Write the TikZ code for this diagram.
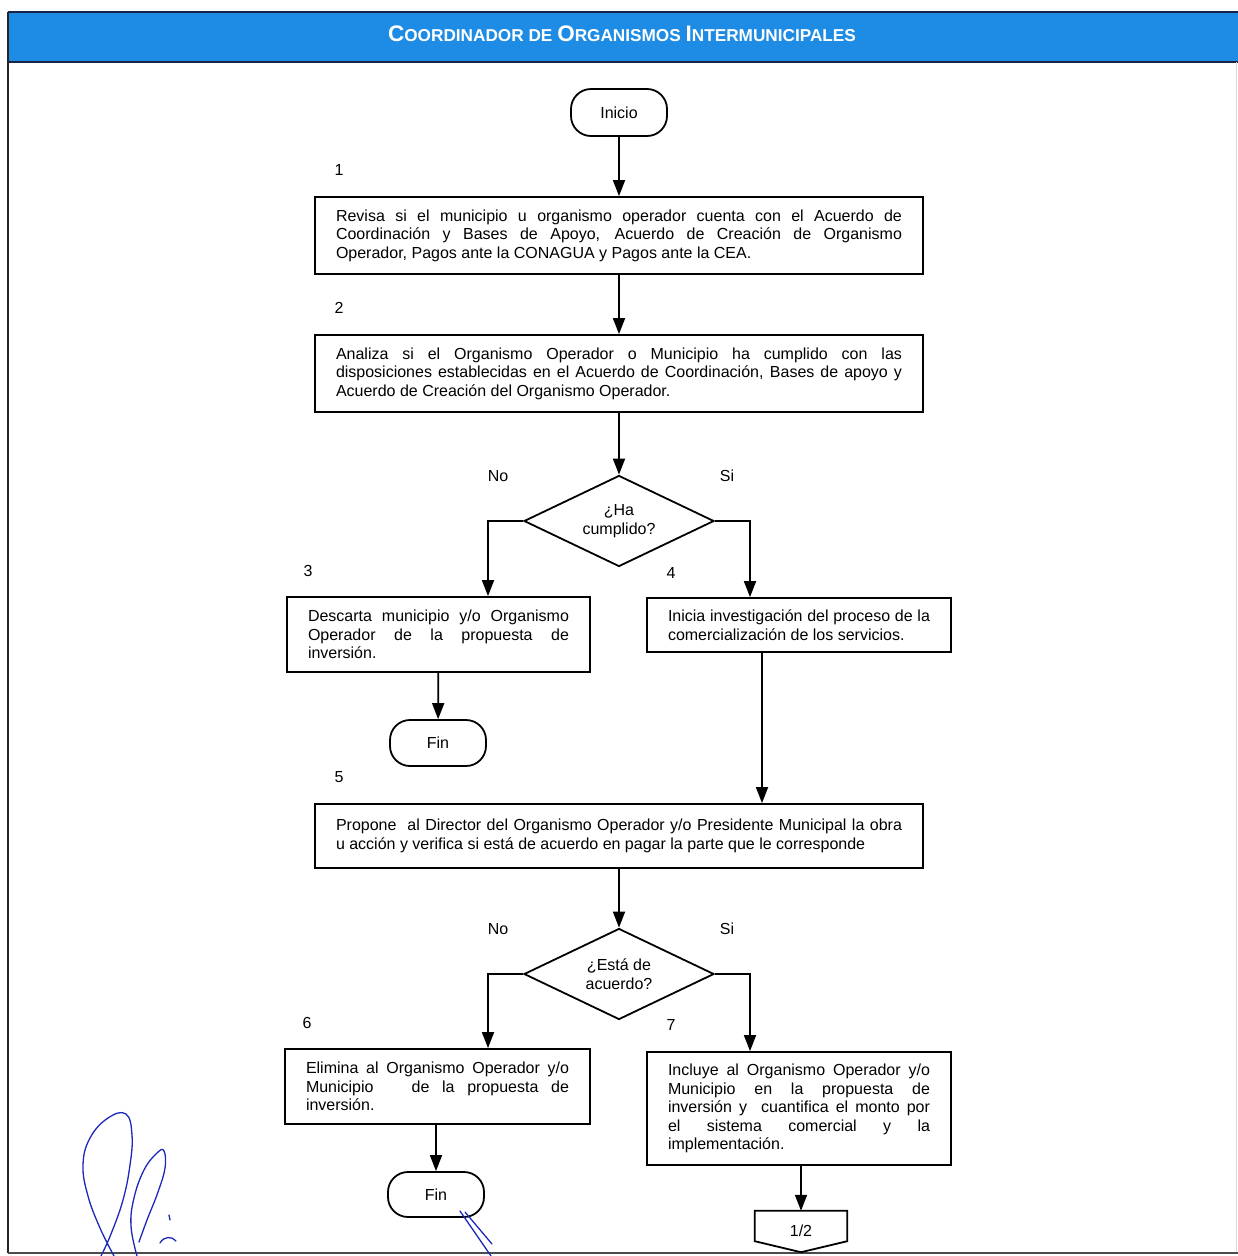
\documentclass[tikz,border=0pt]{standalone}
\usepackage{fontspec}
\setmainfont{Liberation Sans}
\usetikzlibrary{shapes.geometric,arrows.meta,calc}
\definecolor{hdrblue}{RGB}{30,140,228}
\definecolor{hdrline}{RGB}{25,35,70}
\definecolor{inkblue}{RGB}{28,40,185}
\newcommand{\bodyfont}{\fontsize{16}{18.5}\selectfont}
\newcommand{\capbig}[1]{{\fontsize{22.5}{23}\selectfont #1}}

\begin{document}
\begin{tikzpicture}[x=1pt,y=-1pt,
  proc/.style={draw, line width=1.8pt, align=justify, inner xsep=21pt, inner ysep=0pt, font=\bodyfont},
  term/.style={draw, line width=1.8pt, rounded corners=20pt, minimum width=96pt, minimum height=47pt, inner sep=0pt, font=\bodyfont},
  dec/.style={diamond, draw, line width=1.8pt, shape aspect=2, minimum width=190pt, minimum height=91pt, inner sep=0pt, align=center, font=\bodyfont},
  arr/.style={line width=1.8pt, -{Triangle[length=16pt,width=12pt]}},
  lbl/.style={font=\bodyfont, inner sep=0pt},
  sig/.style={inkblue, line width=1.3pt, line cap=round, line join=round}]

\useasboundingbox (0,0) rectangle (1238,1256);

% page frame and heading band
\fill[hdrblue] (8,12) rectangle (1238,62);
\draw[hdrline, line width=1.6pt] (8,12) -- (1238,12);
\draw[hdrline, line width=1.6pt] (8,62) -- (1238,62);
\draw[black!85, line width=1.4pt] (8,12) -- (8,1253);
\draw[black!15, line width=1pt] (1236,62) -- (1236,1253);
\draw[black!70, line width=1.8pt] (8,1253) -- (1238,1253);
\node[text=white, font=\bfseries\fontsize{17.2}{18}\selectfont, inner sep=0pt] (title) at (622,33.7)
  {\capbig{C}OORDINADOR DE \capbig{O}RGANISMOS \capbig{I}NTERMUNICIPALES};

% flow nodes
\node[term] (ini) at (619,112.5) {Inicio};

\node[lbl] (n1) at (339,170) {1};
\node[proc, text width=566pt, minimum height=77pt] (b1) at (619,235.5)
  {Revisa si el municipio u organismo operador cuenta con el Acuerdo de\linebreak
   Coordinación y Bases de Apoyo, Acuerdo de Creación de Organismo\linebreak
   Operador, Pagos ante la CONAGUA y Pagos ante la CEA.};

\node[lbl] (n2) at (339,308) {2};
\node[proc, text width=566pt, minimum height=77pt] (b2) at (619,373.5)
  {Analiza si el Organismo Operador o Municipio ha cumplido con las\linebreak
   disposiciones establecidas en el Acuerdo de Coordinación, Bases de apoyo y\linebreak
   Acuerdo de Creación del Organismo Operador.};

\node[dec] (d1) at (619,521) {¿Ha\\cumplido?};
\node[lbl] (no1) at (498,476) {No};
\node[lbl] (si1) at (727,476) {Si};

\node[lbl] (n3) at (308,571) {3};
\node[proc, text width=261pt, minimum height=75pt] (b3) at (438.5,634.5)
  {Descarta municipio y/o Organismo\linebreak
   Operador de la propuesta de\linebreak
   inversión.};

\node[lbl] (n4) at (671,573) {4};
\node[proc, text width=262pt, minimum height=54pt] (b4) at (799,625)
  {Inicia investigación del proceso de la\linebreak
   comercialización de los servicios.};

\node[term, minimum height=46pt] (f1) at (438,743) {Fin};

\node[lbl] (n5) at (339,777) {5};
\node[proc, text width=566pt, minimum height=64pt] (b5) at (619,836)
  {Propone\ \ al Director del Organismo Operador y/o Presidente Municipal la obra\linebreak
   u acción y verifica si está de acuerdo en pagar la parte que le corresponde};

\node[dec] (d2) at (619,974) {¿Está de\\acuerdo?};
\node[lbl] (no2) at (498,929) {No};
\node[lbl] (si2) at (727,929) {Si};

\node[lbl] (n6) at (307,1023) {6};
\node[proc, text width=263pt, minimum height=75pt] (b6) at (437.5,1086.5)
  {Elimina al Organismo Operador y/o\linebreak
   Municipio\ \ \ de la propuesta de\linebreak
   inversión.};

\node[lbl] (n7) at (671,1025) {7};
\node[proc, text width=262pt, minimum height=113pt] (b7) at (799,1108.5)
  {Incluye al Organismo Operador y/o\linebreak
   Municipio en la propuesta de\linebreak
   inversión y\ \ cuantifica el monto por\linebreak
   el sistema comercial y la\linebreak
   implementación.};

\node[term, minimum height=45pt] (f2) at (436,1194.5) {Fin};

% off-page connector
\node[minimum width=92pt, minimum height=30pt, inner sep=0pt] (pg) at (801,1226) {};
\draw[line width=1.8pt, line join=miter] (pg.north west) -- (pg.north east) -- (pg.south east)
  -- ($(pg.south)+(0,11)$) -- (pg.south west) -- cycle;
\node[lbl] (pgt) at ($(pg.center)+(0,5)$) {1/2};

% connectors
\draw[arr] (ini) -- (b1);
\draw[arr] (b1) -- (b2);
\draw[arr] (b2) -- (d1);
\draw[arr] (d1.west) -| ([xshift=49.5pt]b3.north);
\draw[arr] (d1.east) -| ([xshift=-49pt]b4.north);
\draw[arr] (b3) -- (f1);
\draw[arr] ([xshift=-37pt]b4.south) -- ([xshift=-37pt]b4.south |- b5.north);
\draw[arr] (b5.south -| d2.north) -- (d2.north);
\draw[arr] (d2.west) -| ([xshift=50.5pt]b6.north);
\draw[arr] (d2.east) -| ([xshift=-49pt]b7.north);
\draw[arr] (b6.south -| f2.north) -- (f2.north);
\draw[arr] (b7.south -| pg.north) -- (pg.north);

% handwritten initials
\draw[sig] plot[smooth, tension=0.7] coordinates {(114,1256) (100,1228) (88,1196) (83,1165) (90,1138) (108,1118) (126,1114) (132,1135) (130,1165) (123,1200) (111,1234) (101,1256)};
\draw[sig] plot[smooth, tension=0.7] coordinates {(137,1256) (131,1226) (134,1198) (144,1170) (157,1153) (164,1151) (165,1168) (158,1192) (147,1220) (139,1242)};
\draw[sig] (169,1215) -- (170,1220);
\draw[sig] (160,1243) .. controls (164,1236) and (172,1236) .. (176,1241);
\draw[sig] (460,1211) -- (491,1256);
\draw[sig] (465,1212) .. controls (478,1228) .. (492,1244);
\end{tikzpicture}
\end{document}
